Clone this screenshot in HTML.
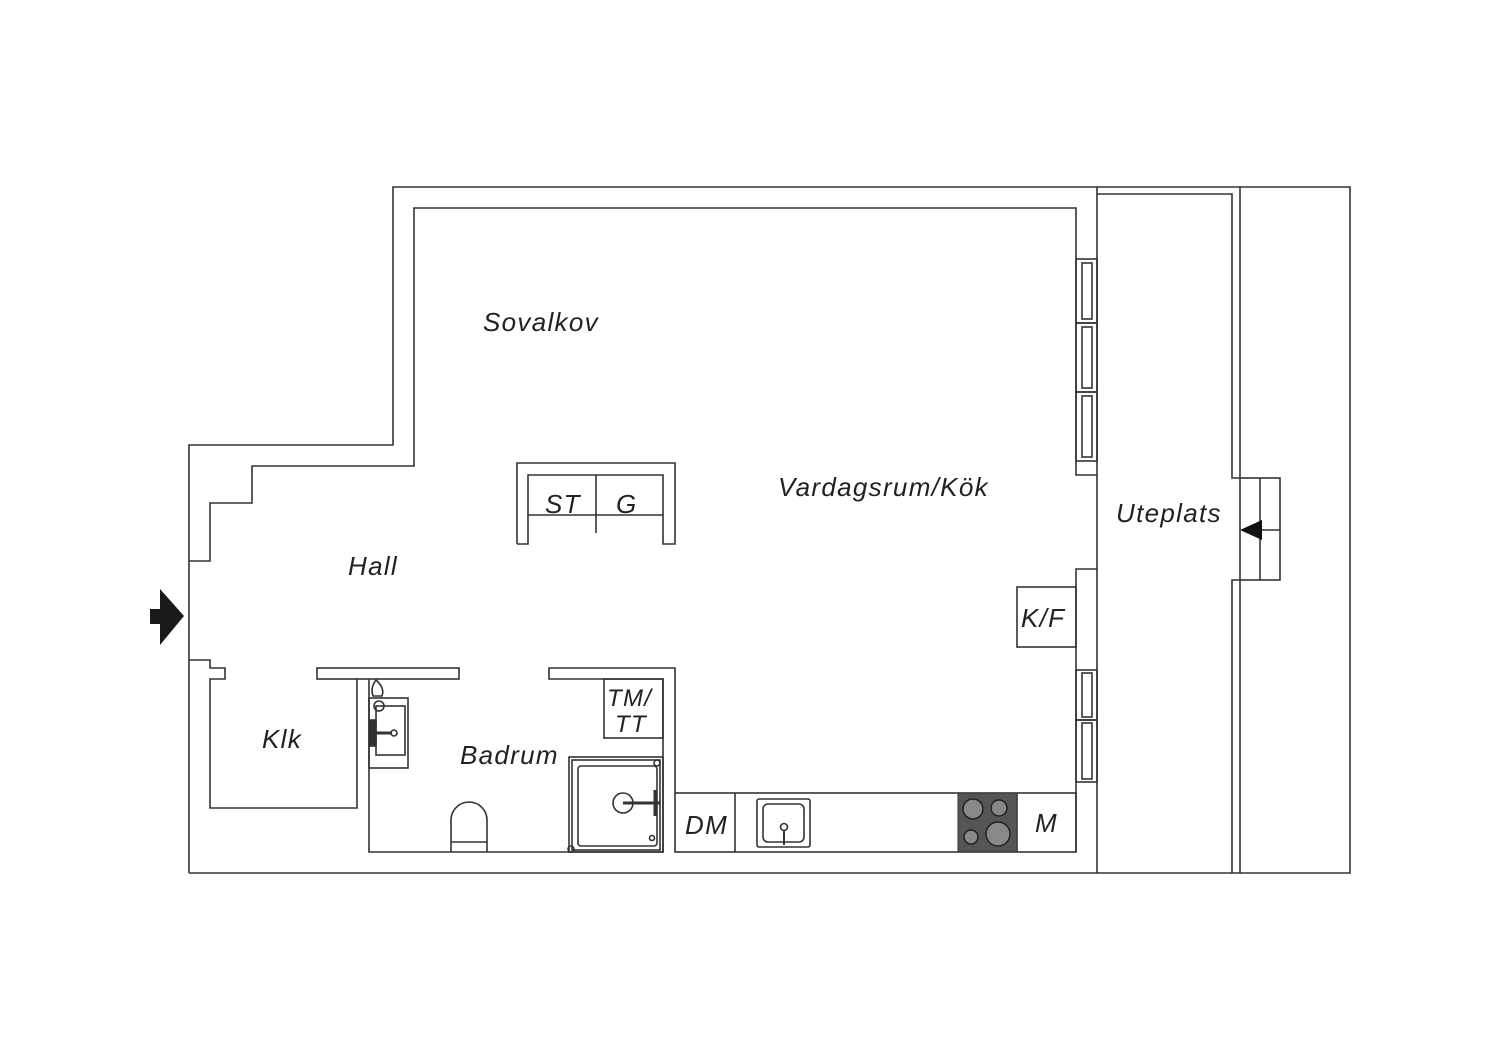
<!DOCTYPE html>
<html><head><meta charset="utf-8"><style>
html,body{margin:0;padding:0;background:#fff;}
svg{display:block;}
text{font-family:"Liberation Sans",sans-serif;font-style:italic;fill:#222;letter-spacing:1.3px;}
</style></head><body>
<svg width="1500" height="1060" viewBox="0 0 1500 1060" xmlns="http://www.w3.org/2000/svg">
<g fill="none" stroke="#333" stroke-width="1.6">
<polyline points="189,873 189,445 393,445 393,187 1097,187"/>
<polyline points="189,873 1350,873 1350,187 1097,187 1097,873"/>
<polyline points="189,561 210,561 210,503 252,503 252,466 414,466 414,208 1076,208 1076,475 1097,475"/>
<rect x="1076" y="259" width="21" height="64"/>
<rect x="1076" y="323" width="21" height="69"/>
<rect x="1076" y="392" width="21" height="69"/>
<rect x="1082" y="263" width="10" height="56"/>
<rect x="1082" y="327" width="10" height="61"/>
<rect x="1082" y="396" width="10" height="61"/>
<polyline points="1097,569 1076,569 1076,852"/>
<rect x="1076" y="670" width="21" height="50"/>
<rect x="1076" y="720" width="21" height="62"/>
<rect x="1082" y="673" width="10" height="44"/>
<rect x="1082" y="723" width="10" height="56"/>
<rect x="1017" y="587" width="59" height="60"/>
<polyline points="189,660 210,660 210,668 225,668 225,679 210,679 210,808 357,808 357,679"/>
<rect x="317" y="668" width="142" height="11"/>
<polyline points="369,679 369,852 663,852 663,679 549,679 549,668 675,668 675,793"/>
<rect x="604" y="679" width="59" height="59"/>
<rect x="569" y="757" width="94" height="95"/>
<rect x="572" y="760" width="88" height="90"/>
<rect x="578" y="766" width="79" height="80" rx="3"/>
<circle cx="623" cy="803" r="10"/>
<line x1="623" y1="803" x2="660" y2="803" stroke-width="3"/>
<line x1="655" y1="790" x2="655" y2="816" stroke-width="3"/>
<circle cx="657" cy="763" r="3"/>
<circle cx="571" cy="849" r="3"/>
<circle cx="652" cy="838" r="2.5"/>
<path d="M451,852 L451,820 A18,18 0 0 1 487,820 L487,852"/>
<line x1="451" y1="842" x2="487" y2="842"/>
<rect x="369" y="698" width="39" height="70"/>
<rect x="376" y="706" width="29" height="49"/>
<path d="M376,680 Q370,688 373,696 L382,696 Q385,688 376,680Z"/>
<circle cx="379" cy="706" r="5"/>
<line x1="372" y1="733" x2="392" y2="733" stroke-width="3"/>
<circle cx="394" cy="733" r="3"/>
<rect x="370" y="720" width="6" height="26" fill="#333"/>
<polyline points="517,544 517,463 675,463 675,544 663,544 663,515 528,515 528,544 517,544"/>
<polyline points="528,515 528,475 663,475 663,515"/>
<line x1="596" y1="475" x2="596" y2="533"/>
<rect x="675" y="793" width="401" height="59"/>
<line x1="735" y1="793" x2="735" y2="852"/>
<line x1="1017" y1="793" x2="1017" y2="852"/>
<rect x="757" y="799" width="53" height="48" rx="2"/>
<rect x="763" y="804" width="41" height="38" rx="5"/>
<circle cx="784" cy="827" r="3.5"/>
<line x1="784" y1="830" x2="784" y2="845" stroke-width="2"/>
<polyline points="1097,194 1232,194 1232,478 1240,478"/>
<polyline points="1240,187 1240,478"/>
<polyline points="1240,580 1240,873"/>
<polyline points="1240,580 1232,580 1232,873"/>
<rect x="1240" y="478" width="40" height="102"/>
<line x1="1260" y1="478" x2="1260" y2="580"/>
<line x1="1260" y1="530" x2="1280" y2="530"/>
</g>
<rect x="958" y="793" width="59" height="59" fill="#555" stroke="#333"/>
<g stroke="#222" stroke-width="1.5" fill="#888">
<circle cx="973" cy="809" r="10"/><circle cx="999" cy="808" r="8"/>
<circle cx="971" cy="837" r="7"/><circle cx="998" cy="834" r="12"/>
</g>
<polygon points="150,609 160,609 160,589 184,616 160,645 160,624 150,624" fill="#1a1a1a"/>
<polygon points="1240,530 1262,520 1262,540" fill="#111"/>
<g font-size="26">
<text x="483" y="331">Sovalkov</text>
<text x="778" y="496" letter-spacing="1.8">Vardagsrum/Kök</text>
<text x="348" y="575">Hall</text>
<text x="1116" y="522" letter-spacing="1.5">Uteplats</text>
<text x="262" y="748">Klk</text>
<text x="460" y="764" letter-spacing="1.8">Badrum</text>
<text x="545" y="513">ST</text>
<text x="616" y="513">G</text>
<text x="1021" y="627" letter-spacing="2">K/F</text>
<text x="685" y="834">DM</text>
<text x="1035" y="832">M</text>
<text x="607" y="706" font-size="24">TM/</text>
<text x="615" y="732" font-size="24">TT</text>
</g>
</svg>
</body></html>
